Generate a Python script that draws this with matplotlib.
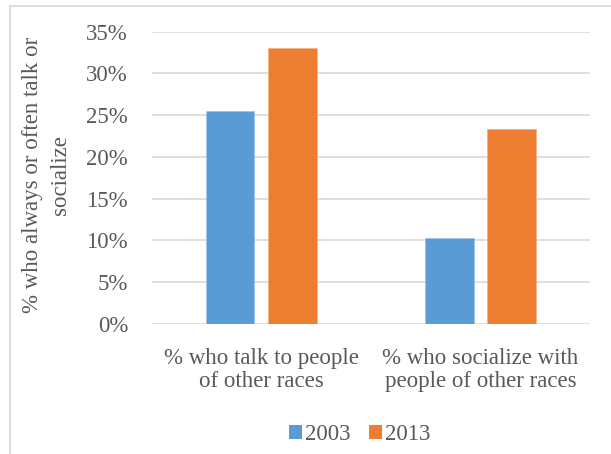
import matplotlib
matplotlib.use("Agg")
import matplotlib.pyplot as plt
from matplotlib.patches import Patch
from matplotlib.lines import Line2D
import numpy as np

categories = ["% who talk to people\nof other races", "% who socialize with\npeople of other races"]
series_names = ["2003", "2013"]
values_2003 = [0.255, 0.103]
values_2013 = [0.330, 0.234]
y_ticks = [0, 0.05, 0.10, 0.15, 0.20, 0.25, 0.30, 0.35]
y_tick_labels = ["0%", "5%", "10%", "15%", "20%", "25%", "30%", "35%"]
y_label = "% who always or often talk or\nsocialize"

blue = "#5B9BD5"
orange = "#ED7D31"
text_col = "#595959"
grid_col = "#D9D9D9"
fs = 16.5

plt.rcParams['font.family'] = ['Liberation Serif', 'DejaVu Serif']

fig = plt.figure(figsize=(6.11, 4.54), dpi=100)
W, H = 611, 454
ax = fig.add_axes([151.7 / W, 1 - 324 / H, (590 - 151.7) / W, (324 - 31.7) / H])

x = np.arange(len(categories))
bw = 0.222
off = 0.142
ax.bar(x - off, values_2003, bw, color=blue, zorder=3, edgecolor="#9DC3E6", linewidth=0.5)
ax.bar(x + off, values_2013, bw, color=orange, zorder=3, edgecolor="#F4B183", linewidth=0.5)

ax.set_xlim(-0.5, 1.5)
ax.set_ylim(0, 0.35)
ax.set_yticks(y_ticks)
ax.set_yticklabels(y_tick_labels, fontsize=fs, color=text_col)
ax.set_xticks(x)
ax.set_xticklabels(categories, fontsize=fs, color=text_col, linespacing=1.18)
ax.tick_params(axis='y', length=0, pad=17)
ax.tick_params(axis='x', length=0, pad=17)
for s in ax.spines.values():
    s.set_visible(False)
ax.grid(axis='y', color=grid_col, linewidth=1.2, zorder=0)
ax.set_axisbelow(True)

fig.text(46.5 / W, 1 - 175 / H, y_label, rotation=90, ha='center', va='center',
         fontsize=fs, color=text_col, multialignment='center', linespacing=1.38)

handles = [Patch(facecolor=blue, edgecolor='none'), Patch(facecolor=orange, edgecolor='none')]
fig.legend(handles, series_names, loc='center', bbox_to_anchor=(360 / W, 1 - 435 / H),
           ncol=2, frameon=False, fontsize=fs, labelcolor=text_col,
           handlelength=0.55, handleheight=0.55, handletextpad=0.15, columnspacing=0.8)

# chart-area border (left and top visible)
fig.add_artist(Line2D([10 / W, 10 / W], [0, 1 - 6 / H], transform=fig.transFigure, color="#D9D9D9", linewidth=1.2))
fig.add_artist(Line2D([10 / W, 1], [1 - 6 / H, 1 - 6 / H], transform=fig.transFigure, color="#D9D9D9", linewidth=1.2))

fig.savefig("out.png", dpi=100)
